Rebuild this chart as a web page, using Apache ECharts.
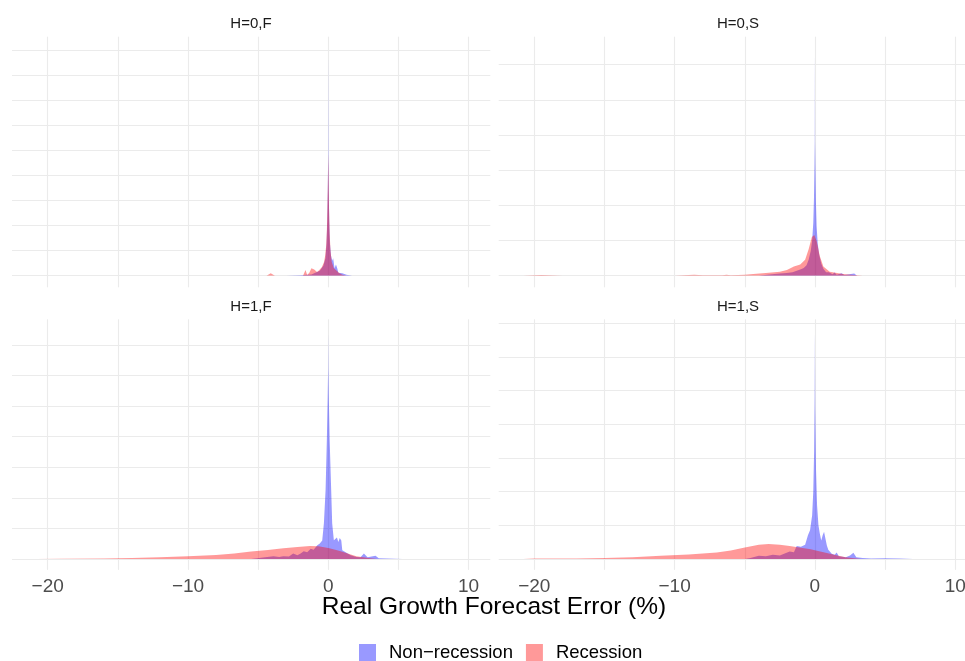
<!DOCTYPE html>
<html>
<head>
<meta charset="utf-8">
<script src="https://cdn.jsdelivr.net/npm/echarts@6/dist/echarts.min.js"></script>
<style>html,body{margin:0;padding:0;background:#fff;}#c{width:965px;height:661px;}</style>
</head>
<body>
<div id="c"></div>
<script>
// ---------------- data ----------------
const panelTitles = ['H=0,F', 'H=0,S', 'H=1,F', 'H=1,S'];
const seriesNames = ['Non\u2212recession', 'Recession'];
const xTickValues = [-20, -10, 0, 10];
const xTickLabels = ['\u221220', '\u221210', '0', '10'];
const xTitle = 'Real Growth Forecast Error (%)';

// H=0,F
const nonRecH0F = [[-20.8,0],[-3,0],[-2,0.02],[-1.2,0.05],[-0.6,0.2],[-0.35,0.4],[-0.2,0.7],[-0.12,1.3],[-0.07,2.2],[-0.035,3.4],[-0.012,4.6],[0,9.1],[0.012,4.6],[0.035,3.4],[0.07,2.2],[0.12,1.3],[0.2,0.8],[0.28,0.6],[0.35,0.7],[0.45,0.3],[0.55,0.45],[0.64,0.3],[0.72,0.12],[0.85,0.15],[1.0,0.1],[1.1,0.05],[1.3,0.04],[1.5,0.02],[1.7,0],[9.8,0]];
const recH0F = [[-20.8,0],[-4.4,0],[-4.1,0.1],[-3.8,0],[-1.8,0],[-1.62,0.23],[-1.5,0.03],[-1.35,0.12],[-1.2,0.3],[-1.0,0.25],[-0.8,0.15],[-0.65,0.22],[-0.45,0.35],[-0.3,0.55],[-0.22,0.8],[-0.15,1.2],[-0.1,1.8],[-0.06,2.7],[-0.03,3.6],[0,4.9],[0.03,3.6],[0.06,2.6],[0.1,1.7],[0.16,1.0],[0.25,0.55],[0.4,0.3],[0.6,0.2],[0.8,0.1],[1.0,0.04],[1.3,0],[9.8,0]];

// H=0,S
const nonRecH0S = [[-20.8,0],[-4,0],[-3.4,0.03],[-2.5,0.06],[-2,0.08],[-1.6,0.1],[-1.3,0.14],[-1,0.18],[-0.8,0.22],[-0.6,0.3],[-0.45,0.45],[-0.3,0.7],[-0.2,1.0],[-0.12,1.5],[-0.07,2.2],[-0.03,3.2],[-0.012,3.8],[0,6.47],[0.012,3.8],[0.03,3.2],[0.07,2.1],[0.12,1.4],[0.2,0.9],[0.3,0.6],[0.45,0.35],[0.6,0.2],[0.8,0.1],[1.0,0.1],[1.1,0.12],[1.25,0.04],[1.4,0.09],[1.55,0.03],[1.9,0.07],[2.1,0.02],[2.8,0.06],[3.0,0],[9.8,0]];
const recH0S = [[-20.8,0],[-19.5,0.02],[-18,0],[-10,0],[-9,0.02],[-8.6,0.03],[-8,0.01],[-6.6,0.01],[-6.3,0.03],[-6,0.01],[-5,0.03],[-4.4,0.05],[-3.5,0.08],[-2.5,0.11],[-2,0.16],[-1.5,0.26],[-1.05,0.32],[-0.7,0.45],[-0.45,0.75],[-0.22,1.1],[-0.05,1.16],[0.13,0.97],[0.35,0.55],[0.6,0.26],[1.05,0.11],[2,0.05],[3.4,0],[9.8,0]];

// H=1,F
const nonRecH1F = [[-20.8,0],[-5.5,0],[-5.06,0.02],[-4.5,0.05],[-3.9,0.09],[-3.5,0.06],[-3.2,0.09],[-2.8,0.08],[-2.5,0.18],[-2.2,0.12],[-1.97,0.18],[-1.75,0.25],[-1.5,0.22],[-1.25,0.33],[-1.04,0.3],[-0.78,0.45],[-0.6,0.5],[-0.43,0.6],[-0.31,1.17],[-0.19,2.25],[-0.1,3.9],[-0.04,5.3],[-0.012,6.2],[0,7.46],[0.012,6.2],[0.04,5.3],[0.1,3.9],[0.21,2.25],[0.28,1.17],[0.4,0.61],[0.52,0.65],[0.62,0.7],[0.72,0.55],[0.82,0.68],[0.93,0.6],[1.0,0.28],[1.3,0.2],[1.6,0.12],[2.0,0.06],[2.3,0.05],[2.54,0.18],[2.8,0.05],[3.37,0.1],[3.6,0.02],[5.3,0],[5.4,0.03],[5.6,0],[7.4,0],[7.5,0.03],[7.7,0],[9.8,0]];
const recH1F = [[-20.8,0],[-19,0.005],[-16,0.015],[-14,0.03],[-12,0.05],[-10,0.09],[-8,0.13],[-6.7,0.18],[-5.5,0.24],[-4.3,0.29],[-3.2,0.35],[-2.2,0.39],[-1.3,0.42],[-0.7,0.41],[0,0.36],[0.5,0.3],[1.0,0.23],[1.5,0.16],[2.0,0.09],[2.5,0.05],[3.0,0.02],[3.5,0],[9.8,0]];

// H=1,S
const nonRecH1S = [[-20.8,0],[-5,0],[-4.6,0.03],[-4,0.09],[-3.5,0.08],[-3,0.12],[-2.5,0.1],[-2.2,0.15],[-1.8,0.22],[-1.5,0.2],[-1.3,0.38],[-1,0.36],[-0.7,0.42],[-0.5,0.7],[-0.35,0.85],[-0.2,1.3],[-0.12,2.0],[-0.06,3.2],[-0.02,4.8],[0,6.78],[0.02,4.5],[0.08,2.6],[0.15,1.6],[0.25,1.0],[0.35,0.75],[0.45,0.55],[0.55,0.7],[0.65,0.81],[0.75,0.6],[0.85,0.4],[0.95,0.27],[1.2,0.15],[1.4,0.12],[1.55,0.19],[1.7,0.08],[2.2,0.05],[2.5,0.1],[2.74,0.18],[2.95,0.05],[3.4,0.03],[4,0.01],[5,0.02],[6,0.01],[7,0],[9.8,0]];
const recH1S = [[-20.8,0],[-20,0.01],[-17,0.015],[-15,0.025],[-13,0.05],[-11,0.09],[-9,0.13],[-7,0.19],[-6,0.25],[-5,0.34],[-4,0.42],[-3.3,0.44],[-2.5,0.42],[-1.8,0.38],[-1,0.33],[-0.3,0.29],[0.3,0.23],[1,0.16],[1.6,0.1],[2.2,0.05],[2.8,0.02],[3.3,0],[9.8,0]];

const panelData = [
  [nonRecH0F, recH0F],
  [nonRecH0S, recH0S],
  [nonRecH1F, recH1F],
  [nonRecH1S, recH1S]
];

// ---------------- layout / style ----------------
const FONT = '"Liberation Sans", Arial, Helvetica, sans-serif';
const colors = ['rgba(0,0,255,0.4)', 'rgba(255,0,0,0.4)'];
const gridColor = '#ebebeb';
const PX_PER_UNIT = 14.03;
const panelH = 250.6;
const dataW = 478.3;
const bgW = 40 * PX_PER_UNIT;
const layout = [
  {left: 12,    top: 36.7,  base: 275.7, spacing: 25,    bgLeft: 47.7 - 5 * PX_PER_UNIT,  labels: false, tx: 251, ty: 24},
  {left: 498.7, top: 36.7,  base: 275.7, spacing: 35.17, bgLeft: 534.3 - 5 * PX_PER_UNIT, labels: false, tx: 738, ty: 24},
  {left: 12,    top: 319.3, base: 558.9, spacing: 30.57, bgLeft: 47.7 - 5 * PX_PER_UNIT,  labels: true,  tx: 251, ty: 307},
  {left: 498.7, top: 319.3, base: 558.9, spacing: 33.67, bgLeft: 534.3 - 5 * PX_PER_UNIT, labels: true,  tx: 738, ty: 307}
];

const grid = [], xAxis = [], yAxis = [], series = [], graphic = [];
layout.forEach((p, i) => {
  // background grid: vertical grid lines and tick labels
  grid.push({left: p.bgLeft, top: p.top, width: bgW, height: panelH, outerBoundsMode: 'none', containLabel: false});
  xAxis.push({
    gridIndex: 2 * i, type: 'value', min: -25, max: 15, interval: 5,
    axisLine: {show: false}, axisTick: {show: false},
    splitLine: {show: true, showMinLine: false, showMaxLine: false, lineStyle: {color: gridColor, width: 1.1}},
    axisLabel: {
      show: p.labels, showMinLabel: false, showMaxLabel: false, margin: 7,
      fontSize: 19, fontFamily: FONT, color: '#4d4d4d',
      formatter: v => { const k = xTickValues.indexOf(v); return k >= 0 ? xTickLabels[k] : ''; }
    }
  });
  yAxis.push({gridIndex: 2 * i, type: 'value', min: 0, max: 1, show: false});
  // data grid
  grid.push({left: p.left, top: p.top, width: dataW, height: p.base - p.top, outerBoundsMode: 'none', containLabel: false});
  xAxis.push({gridIndex: 2 * i + 1, type: 'value', min: -22.54, max: 11.55, show: false});
  yAxis.push({
    gridIndex: 2 * i + 1, type: 'value', min: 0, max: (p.base - p.top) / p.spacing, interval: 1,
    axisLine: {show: false}, axisTick: {show: false}, axisLabel: {show: false},
    splitLine: {show: true, showMinLine: true, showMaxLine: false, lineStyle: {color: gridColor, width: 1.1}}
  });
  panelData[i].forEach((d, s) => {
    series.push({
      name: seriesNames[s], type: 'line', xAxisIndex: 2 * i + 1, yAxisIndex: 2 * i + 1,
      data: d, symbol: 'none', showSymbol: false, smooth: false, silent: true,
      lineStyle: {width: 0, opacity: 0},
      itemStyle: {color: colors[s]},
      areaStyle: {color: colors[s], opacity: 1},
      emphasis: {disabled: true}, z: 2 + s
    });
  });
  graphic.push({
    type: 'text', x: p.tx, y: p.ty, silent: true,
    style: {text: panelTitles[i], fontSize: 15, fontFamily: FONT, fill: '#1a1a1a',
            align: 'center', verticalAlign: 'middle', textAlign: 'center', textVerticalAlign: 'middle'}
  });
});
graphic.push({
  type: 'text', x: 494, y: 607, silent: true,
  style: {text: xTitle, fontSize: 24.5, fontFamily: FONT, fill: '#000',
          align: 'center', verticalAlign: 'middle', textAlign: 'center', textVerticalAlign: 'middle'}
});

const chart = echarts.init(document.getElementById('c'), null, {renderer: 'canvas'});
chart.setOption({
  animation: false,
  backgroundColor: '#fff',
  grid, xAxis, yAxis, series, graphic,
  legend: {
    left: 359, top: 643, padding: 0, itemWidth: 17, itemHeight: 17, itemGap: 13,
    selectedMode: false,
    textStyle: {fontSize: 18.5, fontFamily: FONT, color: '#000', padding: [0, 0, 0, 8]},
    data: seriesNames.map((n, s) => ({name: n, icon: 'rect', itemStyle: {color: colors[s], borderWidth: 0}, lineStyle: {width: 0, opacity: 0}}))
  }
});
</script>
</body>
</html>
